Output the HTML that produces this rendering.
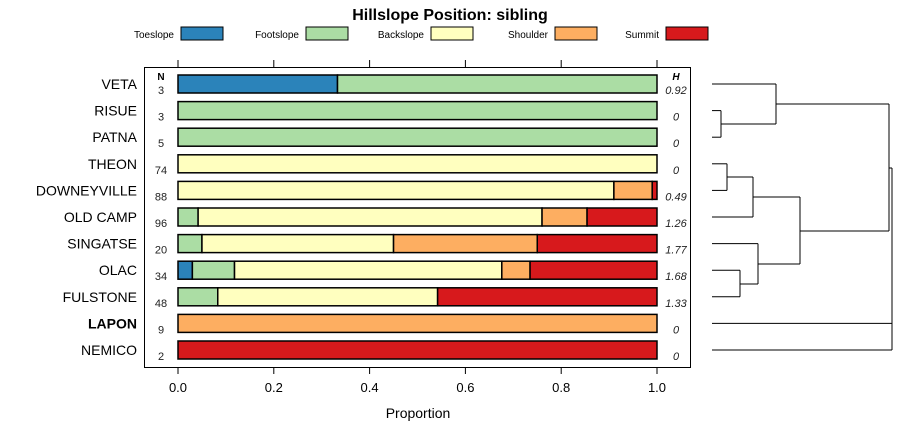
<!DOCTYPE html>
<html><head><meta charset="utf-8"><style>body{margin:0;background:#fff}svg{font-family:"Liberation Sans",sans-serif}</style></head>
<body>
<svg id="c" width="900" height="440"></svg>
<script>
const categories=["VETA","RISUE","PATNA","THEON","DOWNEYVILLE","OLD CAMP","SINGATSE","OLAC","FULSTONE","LAPON","NEMICO"];
const seriesNames=["Toeslope","Footslope","Backslope","Shoulder","Summit"];
const colors=["#2b83ba","#abdda4","#ffffbf","#fdae61","#d7191c"];
const toeslope=[0.333,0,0,0,0,0,0,0.03,0,0,0];
const footslope=[0.667,1,1,0,0,0.042,0.05,0.088,0.083,0,0];
const backslope=[0,0,0,1,0.91,0.718,0.40,0.558,0.459,0,0];
const shoulder=[0,0,0,0,0.08,0.094,0.30,0.059,0,1,0];
const summit=[0,0,0,0,0.01,0.146,0.25,0.265,0.458,0,1];
const nValues=["3","3","5","74","88","96","20","34","48","9","2"];
const hValues=["0.92","0","0","0","0.49","1.26","1.77","1.68","1.33","0","0"];
const ticks=[0,0.2,0.4,0.6,0.8,1.0];
const tickLabels=["0.0","0.2","0.4","0.6","0.8","1.0"];
const svg=document.getElementById('c');const NS='http://www.w3.org/2000/svg';
function el(t,a,txt){const e=document.createElementNS(NS,t);for(const k in a)e.setAttribute(k,a[k]);if(txt!==undefined)e.textContent=txt;svg.appendChild(e);return e;}
const x=v=>178+v*479;
const y=i=>84+i*26.6;
let e;
e=el('text',{x:450,y:20,'text-anchor':'middle','font-size':16,'font-weight':'bold'},'Hillslope Position: sibling');

const legX=[128,253,378,502,613];
seriesNames.forEach((s,i)=>{
 e=el('text',{x:legX[i]+46,y:38,'text-anchor':'end','font-size':10},s);
 
 e=el('rect',{x:legX[i]+53,y:27,width:42,height:13,fill:colors[i],stroke:'#000','stroke-width':1});
 
});
e=el('rect',{x:144.5,y:67.5,width:546,height:300,fill:'none',stroke:'#000','stroke-width':1});

ticks.forEach((t,i)=>{
 el('line',{x1:x(t),x2:x(t),y1:60,y2:67,stroke:'#000'});
 e=el('line',{x1:x(t),x2:x(t),y1:367,y2:374,stroke:'#000'});
 
 e=el('text',{x:x(t),y:392,'text-anchor':'middle','font-size':13},tickLabels[i]);
 
});
e=el('text',{x:418,y:418,'text-anchor':'middle','font-size':14},'Proportion');

e=el('text',{x:161,y:80,'text-anchor':'middle','font-size':10,'font-weight':'bold'},'N');

e=el('text',{x:676,y:80,'text-anchor':'middle','font-size':10,'font-weight':'bold','font-style':'italic'},'H');

const series=[toeslope,footslope,backslope,shoulder,summit];
categories.forEach((c,i)=>{
 const cy=y(i);
 e=el('text',{x:137,y:cy+5,'text-anchor':'end','font-size':14,'font-weight':c==='LAPON'?'bold':'normal'},c);
 
 e=el('text',{x:161,y:cy+10,'text-anchor':'middle','font-size':11,fill:'#222'},nValues[i]);
 
 e=el('text',{x:676,y:cy+10,'text-anchor':'middle','font-size':11,'font-style':'italic',fill:'#222'},hValues[i]);
 
 let cum=0;
 series.forEach((s,k)=>{
  const v=s[i];if(v<=0)return;
  e=el('rect',{x:x(cum),y:cy-9,width:x(cum+v)-x(cum),height:18,fill:colors[k],stroke:'#000','stroke-width':1.5});
  
  cum+=v;
 });
});
const lines=[
[712,y(0),776,y(0)],[712,y(1),721,y(1)],[712,y(2),721,y(2)],[721,y(1),721,y(2)],[721,124,776,124],[776,y(0),776,124],[776,104,889,104],
[712,y(3),727,y(3)],[712,y(4),727,y(4)],[727,y(3),727,y(4)],[727,177,753,177],[712,y(5),753,y(5)],[753,177,753,y(5)],[753,197,800,197],
[712,y(7),740,y(7)],[712,y(8),740,y(8)],[740,y(7),740,y(8)],[740,284,758,284],[712,y(6),758,y(6)],[758,y(6),758,284],[758,264,800,264],
[800,197,800,264],[800,231,889,231],[889,104,889,231],[889,168,892,168],
[712,y(9),892,y(9)],[712,y(10),892,y(10)],[892,168,892,y(10)]];
lines.forEach(l=>{e=el('line',{x1:l[0],y1:l[1],x2:l[2],y2:l[3],stroke:'#000','stroke-width':1});
});
</script>
</body></html>
